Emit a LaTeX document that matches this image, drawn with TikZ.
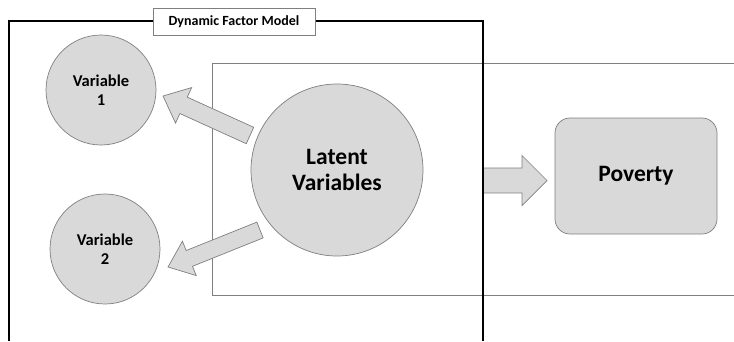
\documentclass[tikz,border=0pt]{standalone}
\usepackage{fontspec}
\setmainfont{Carlito}
\usetikzlibrary{calc}
\definecolor{shapefill}{HTML}{D9D9D9}
\definecolor{edgegray}{HTML}{7F7F7F}
\tikzset{
  blob/.style={circle, fill=shapefill, draw=edgegray, line width=0.7pt, inner sep=0pt, align=center, font=\bfseries\fontsize{16.5}{19}\selectfont},
  bigblob/.style={blob, font=\bfseries\fontsize{23.5}{26}\selectfont},
  goalbox/.style={rectangle, rounded corners=15pt, fill=shapefill, draw=edgegray, line width=0.7pt, inner sep=0pt, font=\bfseries\fontsize{23.5}{26}\selectfont},
  titlebox/.style={rectangle, fill=white, draw=edgegray, line width=0.7pt, inner sep=0pt, font=\bfseries\fontsize{14}{16}\selectfont},
  blockarrow/.style={fill=shapefill, draw=edgegray, line width=0.7pt, line join=miter},
  frameline/.style={draw=black, line width=1.8pt},
  panelline/.style={draw=edgegray, line width=0.9pt}
}
% #1 tail, #2 tip, #3 half shaft, #4 half head, #5 head length
\newcommand\blkarrow[5]{%
  \filldraw[blockarrow] let \p1=($(#2)-(#1)$), \n1={atan2(\y1,\x1)}, \n2={veclen(\x1,\y1)} in
    [shift={(#1)}, rotate=\n1]
    (0,-#3) -- (\n2-#5,-#3) -- (\n2-#5,-#4) -- (\n2,0) -- (\n2-#5,#4) -- (\n2-#5,#3) -- (0,#3) -- cycle;}
\begin{document}
\begin{tikzpicture}[x=1pt, y=-1pt]
\useasboundingbox (0,0) rectangle (734,341);
% inner panel
\draw[panelline] (734,63) -- (212,63) -- (212,295) -- (734,295);
% nodes
\node[blob, minimum size=110pt] (v1) at (101,90) {Variable\\1};
\node[blob, minimum size=110pt] (v2) at (105,249) {Variable\\2};
\node[bigblob, minimum size=172pt] (lat) at (337,170) {Latent\\Variables};
\node[goalbox, minimum width=162pt, minimum height=116pt] (pov) at (636,176) {Poverty};
% arrow endpoints
\coordinate (a1s) at (250,135.5);
\coordinate (a1e) at (163,96);
\coordinate (a2s) at (260,230);
\coordinate (a2e) at (168,267);
\coordinate (a3s) at (483,180.5);
\coordinate (a3e) at (547,180.5);
\blkarrow{a1s}{a1e}{9}{19.5}{22.6}
\blkarrow{a2s}{a2e}{8.5}{18.5}{23}
\blkarrow{a3s}{a3e}{12.5}{25}{25}
% outer frame
\draw[frameline] (9,341) -- (9,21) -- (483,21) -- (483,341);
\node[titlebox, minimum width=162pt, minimum height=27pt] (ttl) at (234,21.5) {Dynamic Factor Model};
\end{tikzpicture}
\end{document}
